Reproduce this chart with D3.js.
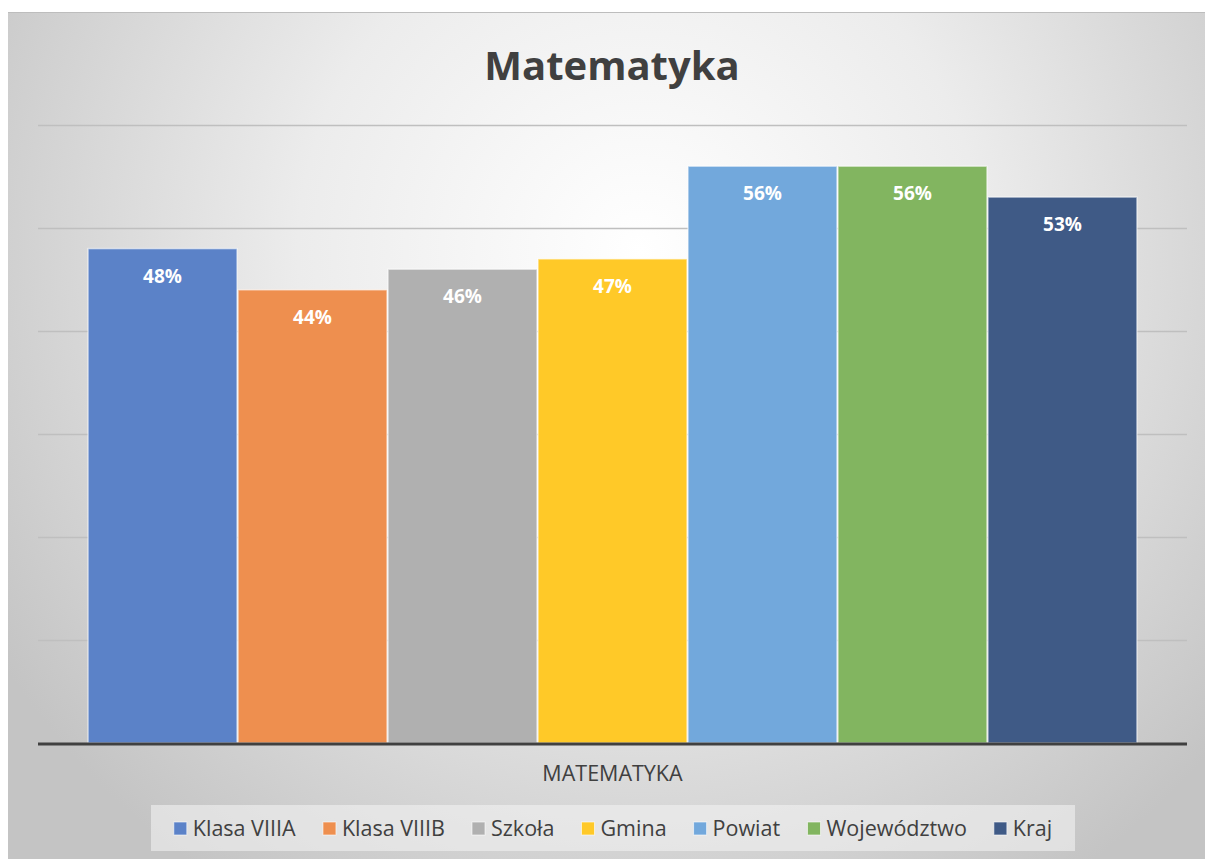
<!DOCTYPE html>
<html lang="pl">
<head>
    <meta charset="UTF-8">
    <title>Matematyka</title>
    <script src="https://d3js.org/d3.v7.min.js"></script>
    <style>
        body { margin: 0; background: #fff; font-family: "Open Sans", Arial, sans-serif; }
        svg { display: block; }
    </style>
</head>
<body>
    <div id="chart"></div>

    <script>
        // Data
        const category = "MATEMATYKA";
        const series = ["Klasa VIIIA", "Klasa VIIIB", "Szkoła", "Gmina", "Powiat", "Województwo", "Kraj"];
        const values = [0.48, 0.44, 0.46, 0.47, 0.56, 0.56, 0.53];
        const colors = ["#5b82c8", "#ee8f4f", "#b0b0b0", "#ffc928", "#72a8dc", "#82b560", "#3f5a86"];
        const yTicks = [0, 0.1, 0.2, 0.3, 0.4, 0.5, 0.6];

        // Configuration
        const width = 1205, height = 859;
        const frame = { x: 8, y: 12 };
        const plot = { left: 38, right: 1187, top: 125, bottom: 743 };

        const svg = d3.select("#chart").append("svg")
            .attr("width", width)
            .attr("height", height);

        const defs = svg.append("defs");
        const grad = defs.append("radialGradient")
            .attr("id", "bg")
            .attr("gradientUnits", "userSpaceOnUse")
            .attr("cx", 640).attr("cy", 250).attr("r", 760);
        grad.append("stop").attr("offset", "0%").attr("stop-color", "#ffffff");
        grad.append("stop").attr("offset", "45%").attr("stop-color", "#ececec");
        grad.append("stop").attr("offset", "100%").attr("stop-color", "#c4c4c4");

        // chart frame
        svg.append("rect")
            .attr("x", frame.x).attr("y", frame.y)
            .attr("width", width - frame.x).attr("height", height - frame.y)
            .attr("fill", "url(#bg)");
        svg.append("line")
            .attr("x1", frame.x).attr("x2", width)
            .attr("y1", frame.y + 0.5).attr("y2", frame.y + 0.5)
            .attr("stroke", "#bdbdbd");

        // Title
        svg.append("text")
            .attr("x", 612).attr("y", 80)
            .attr("text-anchor", "middle")
            .attr("font-size", 40).attr("font-weight", "bold")
            .attr("fill", "#404040")
            .text("Matematyka");

        // Scales
        const y = d3.scaleLinear().domain([0, 0.6]).range([plot.bottom, plot.top]);
        const x0 = d3.scaleBand().domain([category])
            .range([plot.left, plot.right])
            .paddingInner(0).paddingOuter(0.0472);
        const x1 = d3.scaleBand().domain(series)
            .range([x0(category), x0(category) + x0.bandwidth()]);

        // Gridlines
        svg.append("g")
            .selectAll("line")
            .data(yTicks.slice(1))
            .enter().append("line")
            .attr("x1", plot.left).attr("x2", plot.right)
            .attr("y1", d => Math.round(y(d)) + 0.5)
            .attr("y2", d => Math.round(y(d)) + 0.5)
            .attr("stroke", "#bfbfbf")
            .attr("stroke-width", 1.5);

        // Bars
        const barData = series.map((s, i) => ({ name: s, value: values[i], color: colors[i] }));

        svg.append("g")
            .selectAll("rect")
            .data(barData)
            .enter().append("rect")
            .attr("x", d => x1(d.name) + 0.5)
            .attr("y", d => y(d.value))
            .attr("width", x1.bandwidth() - 1)
            .attr("height", d => plot.bottom - y(d.value))
            .attr("fill", d => d.color)
            .attr("stroke", "rgba(255,255,255,0.55)")
            .attr("stroke-width", 1.5);

        // Value labels
        svg.append("g")
            .selectAll("text")
            .data(barData)
            .enter().append("text")
            .attr("x", d => x1(d.name) + x1.bandwidth() / 2)
            .attr("y", d => y(d.value) + 34)
            .attr("text-anchor", "middle")
            .attr("font-size", 19).attr("font-weight", "bold")
            .attr("fill", "#ffffff")
            .text(d => d3.format(".0%")(d.value));

        // Baseline
        svg.append("line")
            .attr("x1", plot.left).attr("x2", plot.right)
            .attr("y1", plot.bottom + 1).attr("y2", plot.bottom + 1)
            .attr("stroke", "#404040")
            .attr("stroke-width", 3);

        // Category label
        svg.append("text")
            .attr("x", x0(category) + x0.bandwidth() / 2)
            .attr("y", 781)
            .attr("text-anchor", "middle")
            .attr("font-size", 21.5)
            .attr("fill", "#404040")
            .text(category);

        // Legend
        const legendBox = { x: 151, y: 805, w: 924, h: 46 };
        svg.append("rect")
            .attr("x", legendBox.x).attr("y", legendBox.y)
            .attr("width", legendBox.w).attr("height", legendBox.h)
            .attr("fill", "rgba(242,242,242,0.6)");

        const legend = svg.append("g");
        const items = legend.selectAll("g")
            .data(barData)
            .enter().append("g");
        items.append("rect")
            .attr("width", 13).attr("height", 13)
            .attr("y", -14)
            .attr("fill", d => d.color)
            .attr("stroke", "rgba(255,255,255,0.6)")
            .attr("stroke-width", 1);
        items.append("text")
            .attr("x", 19)
            .attr("font-size", 21.5)
            .attr("fill", "#404040")
            .text(d => d.name);

        // sequential layout, centred in the box
        const gap = 27;
        const widths = [];
        items.each(function () { widths.push(this.getBBox().width); });
        const total = d3.sum(widths) + gap * (widths.length - 1);
        let cx = legendBox.x + (legendBox.w - total) / 2;
        items.each(function (d, i) {
            d3.select(this).attr("transform", `translate(${cx},${836})`);
            cx += widths[i] + gap;
        });
    </script>
</body>
</html>
